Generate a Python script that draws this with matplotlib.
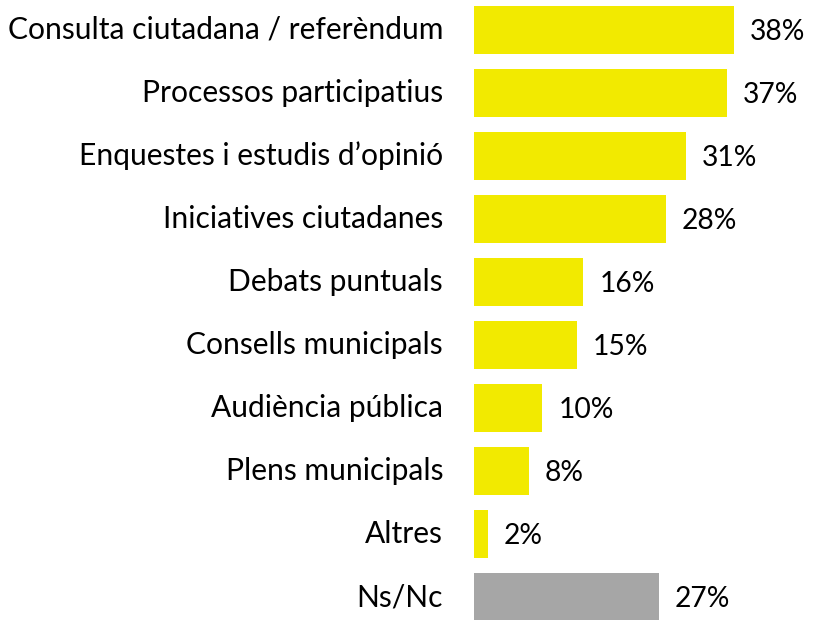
import matplotlib
matplotlib.use("Agg")
import matplotlib.pyplot as plt

categories = ["Consulta ciutadana / referèndum", "Processos participatius",
              "Enquestes i estudis d\u2019opinió", "Iniciatives ciutadanes",
              "Debats puntuals", "Consells municipals", "Audiència pública",
              "Plens municipals", "Altres", "Ns/Nc"]
values = [38, 37, 31, 28, 16, 15, 10, 8, 2, 27]
colors = ["#F2EA00"] * 9 + ["#A6A6A6"]

plt.rcParams['font.family'] = ['Lato', 'DejaVu Sans']

W, H = 817, 620
fig = plt.figure(figsize=(W / 100, H / 100), dpi=100)
ax = fig.add_axes([474 / W, 0, 40 * 6.84 / W, 1])

pos = list(range(len(values)))
ax.barh(pos, values, height=48 / 63, color=colors)
ax.set_xlim(0, 40)
ax.set_ylim(9 + 23 / 63, -30 / 63)

# value labels right of the bars, category names left of the axis
for p, v in zip(pos, values):
    ax.annotate(f"{v}%", (v, p), xytext=(16, -2), textcoords="offset pixels",
                va="center", ha="left", fontsize=20.3, color="black")
    ax.annotate(categories[p], (0, p), xytext=(-31, 0), textcoords="offset pixels",
                va="center", ha="right", fontsize=21.6, color="black",
                annotation_clip=False)

ax.axis("off")
fig.savefig("out.png", dpi=100)
